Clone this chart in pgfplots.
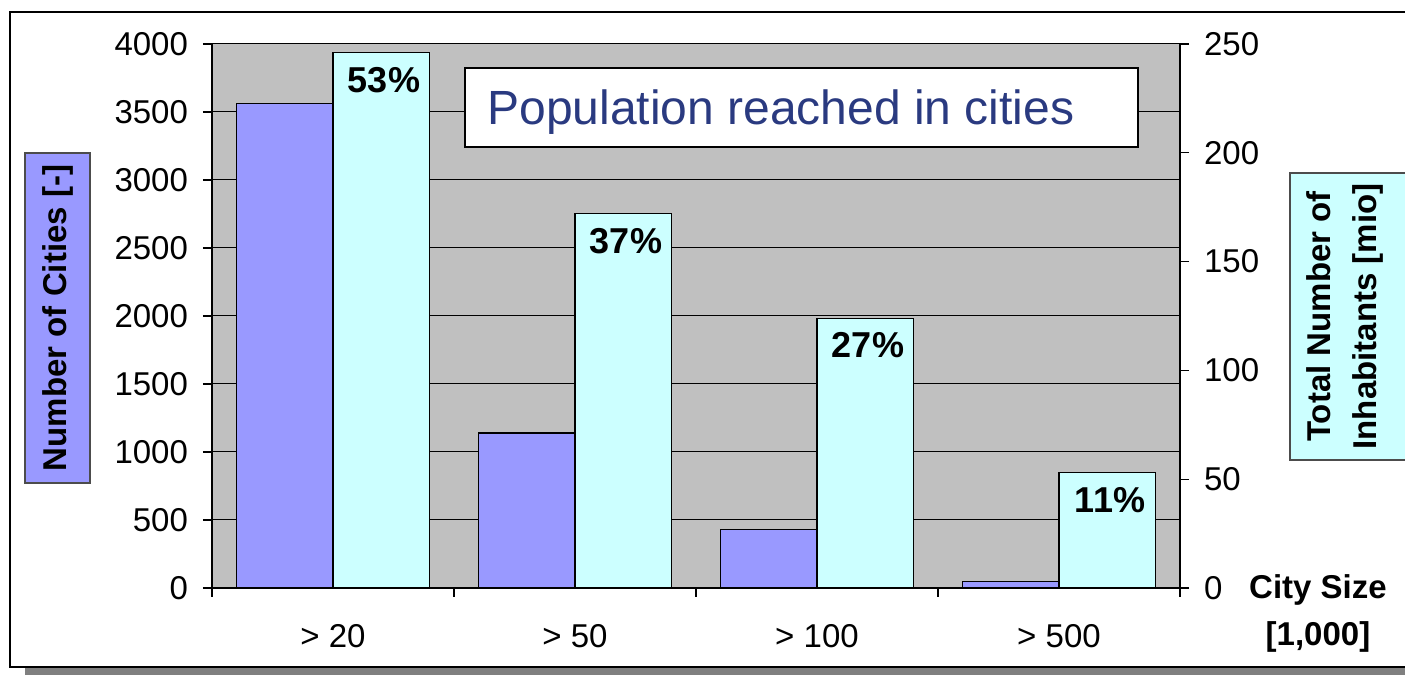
\documentclass[border=0pt]{standalone}
\usepackage{fontspec}
\setmainfont{Liberation Sans}
\usepackage{pgfplots}
\pgfplotsset{compat=1.18}
\definecolor{barblue}{HTML}{9999FF}
\definecolor{barcyan}{HTML}{CCFFFF}
\definecolor{plotgray}{HTML}{C0C0C0}
\definecolor{titleblue}{HTML}{2A3A80}
\definecolor{shadowgray}{HTML}{808080}
\pgfplotsset{
  base/.style={
    at={(106pt,43.5pt)}, anchor=origin,
    scale only axis, width=484pt, height=272pt,
    xmin=0, xmax=4, ymin=0,
    tick align=outside, major tick length=4.5pt,
    axis line style={-, black, line width=0.6pt},
    tick style={black, line width=0.6pt},
    /pgf/number format/assume math mode=true,
    /pgf/number format/1000 sep={},
    tick label style={font=\fontsize{16.5}{19}\selectfont},
  }
}
\begin{document}
\begin{tikzpicture}[x=0.5pt,y=0.5pt]
\path[use as bounding box] (0,0) rectangle (1405,675);
% frame with shadow
\fill[shadowgray] (25,0) rectangle (1420,10);
\draw[line width=0.8pt, fill=white] (10,8) rectangle (1420,663);

% left axis: number of cities
\begin{axis}[base,
  ymax=4000, ytick distance=500,
  axis x line*=bottom, axis y line*=left,
  axis background/.style={fill=plotgray},
  ymajorgrids, grid style={black, line width=0.5pt},
  xtick={0,1,2,3,4},
  xticklabels={> 20,> 50,> 100,> 500,},
  xticklabel style={anchor=base, xshift=60.5pt, yshift=-25.5pt},
  yticklabel style={anchor=east, xshift=-4pt},
]
\addplot[ybar, bar width=0.4, bar shift=-0.2, fill=barblue, draw=black, line width=0.6pt]
  coordinates {(0.5,3560) (1.5,1140) (2.5,430) (3.5,50)};
\end{axis}

% right axis: inhabitants
\begin{axis}[base,
  ymax=250, ytick distance=50,
  axis x line=none, axis y line*=right,
  yticklabel style={anchor=west, xshift=4pt},
  nodes near coords, point meta=explicit symbolic,
  every node near coord/.append style={anchor=center, xshift=25.5pt, yshift=-13.5pt,
    font=\bfseries\fontsize{18}{20}\selectfont},
]
\addplot[ybar, bar width=0.4, bar shift=0.2, fill=barcyan, draw=black, line width=0.6pt]
  coordinates {(0.5,246) [53\%] (1.5,172) [37\%] (2.5,124) [27\%] (3.5,53) [11\%]};
\end{axis}

% title box
\draw[line width=1pt, fill=white] (465,528) rectangle (1138,607);
\node[anchor=base west, inner sep=0, text=titleblue, font=\fontsize{24}{28}\selectfont]
  at (487,550) {Population reached in cities};

% axis titles
\node[rotate=90, fill=barblue, draw=black!70, line width=0.6pt,
  minimum width=165pt, minimum height=32.5pt,
  font=\bfseries\fontsize{16.5}{19}\selectfont] at (57.5,357) {Number of Cities [-]};
\draw[fill=barcyan, draw=black!70, line width=0.6pt] (1290,215) rectangle (1415,502);
\node[rotate=90, align=center, font=\bfseries\fontsize{16.5}{23}\selectfont]
  at (1345,358.5) {Total Number of\\Inhabitants [mio]};
\node[align=center, font=\bfseries\fontsize{16.5}{23.5}\selectfont]
  at (1318,61.5) {City Size\\{[1,000]}};
\end{tikzpicture}
\end{document}
